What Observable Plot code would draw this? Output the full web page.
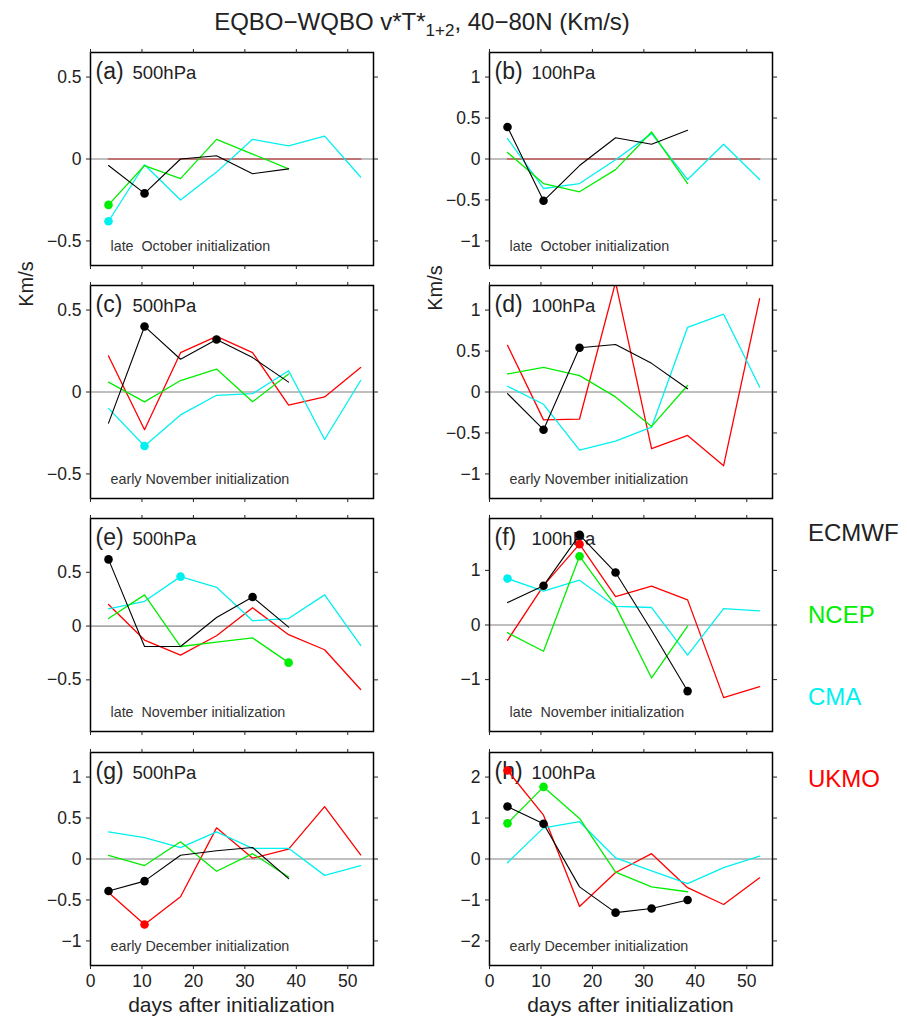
<!DOCTYPE html>
<html><head><meta charset="utf-8">
<script src="https://cdn.jsdelivr.net/npm/d3@7"></script>
<script src="https://cdn.jsdelivr.net/npm/@observablehq/plot@0.6"></script>
<style>
body{margin:0;background:#fff;}
#fig{position:relative;width:907px;height:1023px;font-family:"Liberation Sans",Arial,sans-serif;color:#222;}
#fig svg{position:absolute;}
</style></head><body><div id="fig"></div>
<script>
// ---- data ----
const days = [3.5, 10.5, 17.5, 24.5, 31.5, 38.5, 45.5, 52.5];
const models = ["ECMWF", "NCEP", "CMA", "UKMO"];
const modelColors = ["#000000", "#00ee00", "#00f0f0", "#ff0000"];
const panelLetters = ["(a)", "(b)", "(c)", "(d)", "(e)", "(f)", "(g)", "(h)"];
const panelLevels = ["500hPa", "100hPa", "500hPa", "100hPa", "500hPa", "100hPa", "500hPa", "100hPa"];
const initLabels = [
  "late\u00a0 October initialization", "late\u00a0 October initialization",
  "early November initialization", "early November initialization",
  "late\u00a0 November initialization", "late\u00a0 November initialization",
  "early December initialization", "early December initialization"
];
const yDomains = [[-0.65, 0.65], [-1.3, 1.3], [-0.65, 0.65], [-1.3, 1.3], [-0.98, 1.0], [-1.95, 1.95], [-1.3, 1.3], [-2.6, 2.6]];
const yTicks = [[-0.5, 0, 0.5], [-1, -0.5, 0, 0.5, 1], [-0.5, 0, 0.5], [-1, -0.5, 0, 0.5, 1], [-0.5, 0, 0.5], [-1, 0, 1], [-1, -0.5, 0, 0.5, 1], [-2, -1, 0, 1, 2]];
const xTicks = [0, 10, 20, 30, 40, 50];

// values per panel (a..h)
const ECMWF = [
  [-0.04, -0.21, 0.00, 0.02, -0.09, -0.06],
  [0.39, -0.51, -0.08, 0.26, 0.18, 0.35],
  [-0.19, 0.40, 0.20, 0.32, 0.21, 0.06],
  [-0.02, -0.46, 0.54, 0.58, 0.35, 0.04],
  [0.62, -0.19, -0.19, 0.08, 0.27, -0.01],
  [0.41, 0.72, 1.65, 0.96, -0.10, -1.21],
  [-0.39, -0.27, 0.045, 0.10, 0.14, -0.24],
  [1.28, 0.86, -0.68, -1.31, -1.21, -1.00]
];
const NCEP = [
  [-0.28, -0.04, -0.12, 0.12, 0.03, -0.06],
  [0.08, -0.30, -0.40, -0.13, 0.33, -0.30],
  [0.06, -0.06, 0.07, 0.14, -0.06, 0.11],
  [0.22, 0.30, 0.20, -0.06, -0.42, 0.08],
  [0.07, 0.29, -0.19, -0.15, -0.11, -0.34],
  [-0.14, -0.48, 1.26, 0.35, -0.97, -0.02],
  [0.045, -0.08, 0.21, -0.15, 0.065, -0.22],
  [0.87, 1.76, 0.99, -0.32, -0.68, -0.80]
];
const CMA = [
  [-0.38, -0.035, -0.25, -0.08, 0.12, 0.08, 0.14, -0.11],
  [0.25, -0.36, -0.30, -0.01, 0.31, -0.25, 0.18, -0.25],
  [-0.10, -0.33, -0.14, -0.02, -0.01, 0.13, -0.29, 0.07],
  [0.07, -0.15, -0.71, -0.60, -0.43, 0.79, 0.95, 0.06],
  [0.16, 0.23, 0.46, 0.36, 0.05, 0.07, 0.29, -0.18],
  [0.85, 0.62, 0.82, 0.34, 0.32, -0.55, 0.30, 0.26],
  [0.33, 0.26, 0.14, 0.33, 0.13, 0.13, -0.20, -0.08],
  [-0.09, 0.76, 0.91, 0.03, -0.29, -0.60, -0.21, 0.07]
];
const UKMO = [
  [0, 0, 0, 0, 0, 0, 0, 0],
  [0, 0, 0, 0, 0, 0, 0, 0],
  [0.22, -0.23, 0.24, 0.34, 0.24, -0.08, -0.03, 0.15],
  [0.57, -0.34, -0.33, 1.34, -0.69, -0.53, -0.90, 1.14],
  [0.20, -0.13, -0.27, -0.09, 0.17, -0.08, -0.22, -0.59],
  [-0.28, 0.72, 1.48, 0.52, 0.71, 0.46, -1.33, -1.13],
  [-0.41, -0.80, -0.46, 0.38, 0.01, 0.12, 0.64, 0.05],
  [2.16, 1.07, -1.16, -0.33, 0.13, -0.70, -1.11, -0.46]
];
// indices of highlighted (significant) points per panel
const ECMWF_dots = [[1], [0, 1], [1, 3], [1, 2], [0, 4], [1, 2, 3, 5], [0, 1], [0, 1, 3, 4, 5]];
const NCEP_dots = [[0], [], [], [], [5], [2], [], [0, 1]];
const CMA_dots = [[0], [], [1], [], [2], [0], [], []];
const UKMO_dots = [[], [], [], [], [], [2], [1], [0]];

const seriesValues = [ECMWF, NCEP, CMA, UKMO];
const seriesDots = [ECMWF_dots, NCEP_dots, CMA_dots, UKMO_dots];

// ---- layout ----
const fig = document.getElementById("fig");
const FONT = '"Liberation Sans", Arial, sans-serif';
const frameLefts = [90, 489];
const frameTops = [52, 285, 518, 752];
const W = 283, H = 213;
const mL = 60, mR = 12, mT = 12;
const fmt = d => d < 0 ? "\u2212" + Math.abs(d) : String(d);

for (let i = 0; i < 8; i++) {
  const col = i % 2, row = Math.floor(i / 2);
  const bottomRow = row === 3;
  const mB = bottomRow ? 40 : 12;
  const marks = [
    Plot.ruleY([0], {stroke: "#aaaaaa", strokeWidth: 1.6}),
    Plot.text([panelLetters[i]], {frameAnchor: "top-left", dx: 5, dy: 26, lineAnchor: "bottom", textAnchor: "start", fontSize: 23, fill: "#222"}),
    Plot.text([panelLevels[i]], {frameAnchor: "top-left", dx: 42, dy: 26, lineAnchor: "bottom", textAnchor: "start", fontSize: 18.5, fill: "#222"}),
    Plot.text([initLabels[i]], {frameAnchor: "bottom-left", dx: 20, dy: -15, lineAnchor: "bottom", textAnchor: "start", fontSize: 14.3, fill: "#333"})
  ];
  const order = [3, 2, 1, 0];
  for (const m of order) {
    const vals = seriesValues[m][i];
    const pts = vals.map((v, j) => ({day: days[j], v}));
    const allZero = vals.every(v => v === 0);
    marks.push(Plot.line(pts, {x: "day", y: "v", stroke: allZero ? "#bf7474" : modelColors[m], strokeWidth: allZero ? 1.8 : (m === 0 ? 1.1 : 1.3), clip: true}));
  }
  for (const m of order) {
    const idx = seriesDots[m][i];
    const dp = idx.map(j => ({day: days[j], v: seriesValues[m][i][j]}));
    marks.push(Plot.dot(dp, {x: "day", y: "v", r: 4.3, fill: modelColors[m], stroke: "none"}));
  }
  marks.push(
    Plot.frame({stroke: "#000", strokeWidth: 1.5}),
    Plot.axisX({anchor: "bottom", ticks: xTicks, tickSize: 4, tickPadding: 5, label: null, fontSize: 17.5, tickFormat: bottomRow ? fmt : () => ""}),
    Plot.axisX({anchor: "top", ticks: xTicks, tickSize: 4, label: null, tickFormat: () => ""}),
    Plot.axisY({anchor: "left", ticks: yTicks[i], tickSize: 4, tickPadding: 5, label: null, fontSize: 17.5, tickFormat: fmt}),
    Plot.axisY({anchor: "right", ticks: yTicks[i], tickSize: 4, label: null, tickFormat: () => ""})
  );
  const svg = Plot.plot({
    width: mL + W + mR, height: mT + H + mB,
    marginLeft: mL, marginRight: mR, marginTop: mT, marginBottom: mB,
    x: {domain: [0, 55]},
    y: {domain: yDomains[i]},
    style: {fontFamily: FONT, fontSize: "17px", color: "#222", background: "transparent", overflow: "visible"},
    marks
  });
  svg.style.left = (frameLefts[col] - mL) + "px";
  svg.style.top = (frameTops[row] - mT) + "px";
  fig.appendChild(svg);
}

// ---- overlay texts (title, axis titles, legend) ----
const ov = d3.select(fig).append("svg")
  .attr("width", 907).attr("height", 1023)
  .style("left", "0px").style("top", "0px")
  .style("pointer-events", "none")
  .style("font-family", FONT);

const title = ov.append("text").attr("x", 422).attr("y", 30).attr("text-anchor", "middle")
  .attr("font-size", 24).attr("fill", "#222");
title.append("tspan").text("EQBO\u2212WQBO v*T*");
title.append("tspan").attr("font-size", 17).attr("dy", 6).text("1+2");
title.append("tspan").attr("dy", -6).text(", 40\u221280N (Km/s)");

const yLabelPos = [[33, 284], [442, 288]];
for (const [x, y] of yLabelPos) {
  ov.append("text").attr("transform", `translate(${x},${y}) rotate(-90)`)
    .attr("text-anchor", "middle").attr("font-size", 20).attr("fill", "#222").text("Km/s");
}
for (const c of [0, 1]) {
  ov.append("text").attr("x", frameLefts[c] + W / 2).attr("y", 1012).attr("text-anchor", "middle")
    .attr("font-size", 21).attr("fill", "#222").text("days after initialization");
}
const legendBaselines = [541, 623, 705, 787];
models.forEach((name, k) => {
  ov.append("text").attr("x", 808).attr("y", legendBaselines[k]).attr("font-size", 24)
    .attr("fill", k === 0 ? "#222" : modelColors[k]).text(name);
});
</script>
</body></html>
